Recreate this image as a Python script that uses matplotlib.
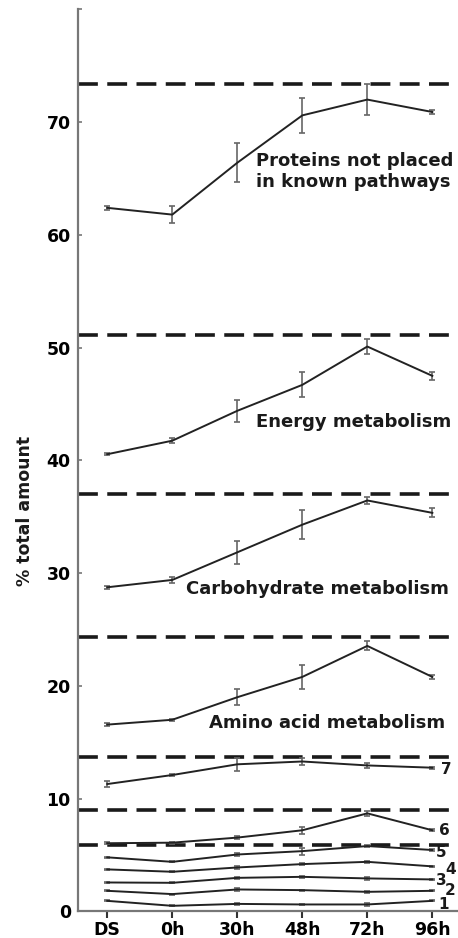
import numpy as np
import matplotlib
matplotlib.use("Agg")
import matplotlib.pyplot as plt

plt.rcParams['font.family'] = 'DejaVu Sans'
plt.rcParams['font.weight'] = 'bold'

# time points
timepoints = ['DS', '0h', '30h', '48h', '72h', '96h']

# named pathways (mean % and error)
proteins_other = [62.4, 61.8, 66.4, 70.6, 72.0, 70.9]
proteins_other_err = [0.15, 0.75, 1.75, 1.55, 1.4, 0.15]
energy = [40.55, 41.75, 44.4, 46.7, 50.1, 47.5]
energy_err = [0.1, 0.2, 0.95, 1.1, 0.65, 0.35]
carbohydrate = [28.75, 29.4, 31.85, 34.3, 36.45, 35.35]
carbohydrate_err = [0.15, 0.25, 1.0, 1.3, 0.3, 0.4]
amino_acid = [16.57, 17.0, 19.0, 20.8, 23.55, 20.8]
amino_acid_err = [0.1, 0.1, 0.7, 1.1, 0.4, 0.2]

# numbered small groups 1..7
grp7 = [11.3, 12.1, 13.05, 13.3, 12.95, 12.75]
grp7_err = [0.25, 0.1, 0.6, 0.3, 0.2, 0.1]
grp6 = [6.05, 6.1, 6.55, 7.2, 8.7, 7.2]
grp6_err = [0.1, 0.1, 0.1, 0.3, 0.2, 0.1]
grp5 = [4.8, 4.4, 5.05, 5.35, 5.8, 5.45]
grp5_err = [0.05, 0.05, 0.1, 0.3, 0.1, 0.05]
grp4 = [3.73, 3.52, 3.9, 4.2, 4.4, 4.0]
grp4_err = [0.05, 0.05, 0.1, 0.1, 0.1, 0.05]
grp3 = [2.57, 2.54, 2.98, 3.07, 2.93, 2.84]
grp3_err = [0.05, 0.05, 0.1, 0.1, 0.1, 0.05]
grp2 = [1.83, 1.54, 1.95, 1.89, 1.74, 1.83]
grp2_err = [0.05, 0.05, 0.1, 0.05, 0.1, 0.05]
grp1 = [0.94, 0.5, 0.67, 0.62, 0.62, 0.94]
grp1_err = [0.05, 0.05, 0.1, 0.05, 0.1, 0.05]

# dashed separators between groups
separators = [73.4, 51.1, 37.0, 24.3, 13.7, 9.0, 5.9]

series = [proteins_other, energy, carbohydrate, amino_acid,
          grp7, grp6, grp5, grp4, grp3, grp2, grp1]
errors = [proteins_other_err, energy_err, carbohydrate_err, amino_acid_err,
          grp7_err, grp6_err, grp5_err, grp4_err, grp3_err, grp2_err, grp1_err]

x = np.arange(len(timepoints))

fig = plt.figure(figsize=(4.58, 9.38), dpi=100)
ax = fig.add_axes([0.1697, 0.0283, 0.8303, 0.9617])

for yv in separators:
    ax.axhline(yv, color='#1a1a1a', lw=2.6, dashes=(5.5, 2.6), zorder=1)

for vals, err in zip(series, errors):
    ax.errorbar(x, vals, yerr=err, color='#222222', lw=1.4,
                ecolor='#666666', elinewidth=1.2, capsize=2.5, capthick=1.2,
                zorder=3)

# pathway labels
ax.text(2.29, 65.6, 'Proteins not placed\nin known pathways', fontsize=13,
        ha='left', va='center', color='#1a1a1a')
ax.text(2.29, 43.4, 'Energy metabolism', fontsize=13, ha='left', va='center',
        color='#1a1a1a')
ax.text(1.21, 28.6, 'Carbohydrate metabolism', fontsize=13, ha='left',
        va='center', color='#1a1a1a')
ax.text(1.57, 16.75, 'Amino acid metabolism', fontsize=13, ha='left',
        va='center', color='#1a1a1a')

# group numbers, staggered like the original
num_labels = ['7', '6', '5', '4', '3', '2', '1']
num_x = [5.21, 5.18, 5.14, 5.28, 5.14, 5.28, 5.17]
num_y = [12.55, 7.2, 5.2, 3.75, 2.75, 1.85, 0.65]
for lab, nx, ny in zip(num_labels, num_x, num_y):
    ax.text(nx, ny, lab, fontsize=11, ha='center', va='center', color='#1a1a1a')

ax.set_xlim(-0.455, 5.395)
ax.set_ylim(0, 80)
ax.set_xticks(x)
ax.set_xticklabels(timepoints, fontsize=12.5)
ax.set_yticks(np.arange(0, 81, 10))
ax.set_yticklabels([str(v) if v < 80 else '' for v in range(0, 81, 10)],
                   fontsize=12.5)
ax.tick_params(axis='y', direction='in', length=3, width=1.2, color='#777777',
               pad=5)
ax.tick_params(axis='x', direction='out', length=5, width=1.5, color='#333333',
               pad=2)

for side in ['top', 'right']:
    ax.spines[side].set_visible(False)
for side in ['left', 'bottom']:
    ax.spines[side].set_color('#777777')
    ax.spines[side].set_linewidth(1.6)

fig.text(25 / 458, 1 - 511 / 938, '% total amount', rotation=90, fontsize=12.5,
         ha='center', va='center', color='#1a1a1a')

fig.savefig('out.png', dpi=100)
